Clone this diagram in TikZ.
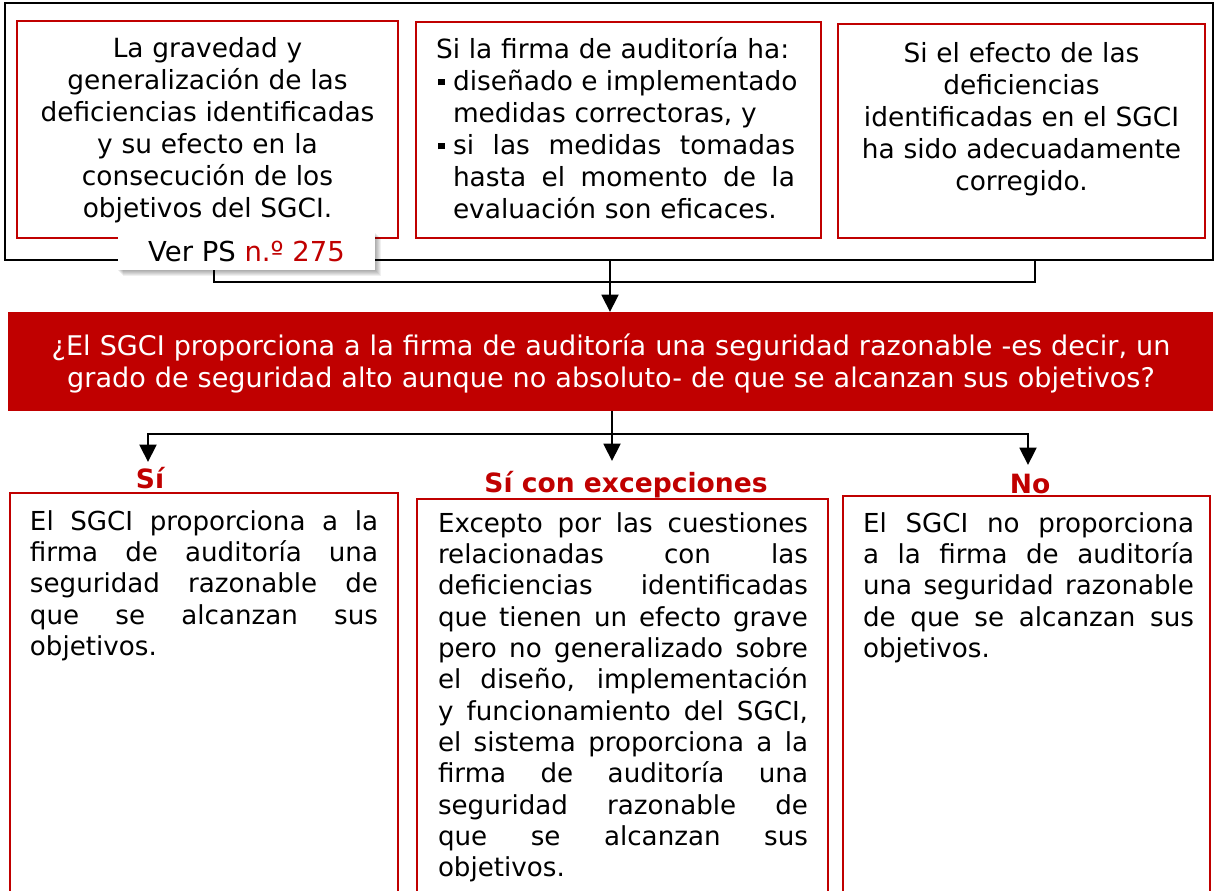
\documentclass[tikz,border=0pt]{standalone}
\usepackage{fontspec}
\setmainfont{DejaVu Sans}
\usetikzlibrary{arrows.meta}
\definecolor{kred}{HTML}{C00000}
\newlength{\bind}
\setlength{\bind}{12.75pt}
\newcommand{\jl}[1]{{\spaceskip=\fontdimen2\font plus 1fil\xspaceskip=\spaceskip\makebox[\linewidth][s]{#1}}}
\newcommand{\jlw}[2]{{\spaceskip=\fontdimen2\font plus 1fil\xspaceskip=\spaceskip\makebox[#1][s]{#2}}}
\newcommand{\bitem}[1]{\makebox[\bind][l]{\hspace*{1.5pt}\raisebox{3.5pt}{\rule{5pt}{5pt}}}\jlw{\dimexpr\linewidth-\bind\relax}{#1}}
\newcommand{\bcont}[1]{\hspace*{\bind}\jlw{\dimexpr\linewidth-\bind\relax}{#1}}
\begin{document}
\begin{tikzpicture}[x=0.75pt,y=-0.75pt,
  every node/.style={inner sep=0pt, outer sep=0pt},
  outerbox/.style={draw=black, line width=1.9pt},
  redbox/.style={draw=kred, line width=1.6pt, fill=white},
  txt/.style={font=\fontsize{19.8pt}{24pt}\selectfont, text=black},
  btxt/.style={font=\fontsize{19.6pt}{23.5pt}\selectfont, text=black, anchor=base west, align=left},
  lbl/.style={font=\fontsize{19.9pt}{24pt}\selectfont\bfseries, text=kred, anchor=base},
  arr/.style={line width=2.2pt, -{Triangle[width=12.5pt,length=13pt]}},
  conn/.style={line width=2.2pt},
  thinline/.style={line width=0.9pt},
]
\clip (0,0) rectangle (1218,890);
\fill[white] (0,0) rectangle (1218,890);

% top frame and boxes
\node[outerbox, minimum width=1208*0.75pt, minimum height=257*0.75pt] (outer) at (609,131.5) {};
\node[redbox, minimum width=381*0.75pt, minimum height=217*0.75pt] (boxA) at (207.5,129.5) {};
\node[redbox, minimum width=405*0.75pt, minimum height=216*0.75pt] (boxB) at (618.5,130) {};
\node[redbox, minimum width=367*0.75pt, minimum height=214*0.75pt] (boxC) at (1021.5,131) {};

\node[txt, anchor=base, text width=370*0.75pt, align=center] (tA) at (207.5,57)
  {La gravedad y\\generalización de las\\deficiencias identificadas\\y su efecto en la\\consecución de los\\objetivos del SGCI.};
\node[txt, anchor=base west, text width=359*0.75pt, align=left] (tB) at (436,58)
  {Si la firma de auditoría ha:\\
   \bitem{diseñado e implementado}\\
   \hspace*{\bind}medidas correctoras, y\\
   \bitem{si las medidas tomadas}\\
   \bcont{hasta el momento de la}\\
   \hspace*{\bind}evaluación son eficaces.};
\node[txt, anchor=base, text width=355*0.75pt, align=center] (tC) at (1021.5,62)
  {Si el efecto de las\\deficiencias\\identificadas en el SGCI\\ha sido adecuadamente\\corregido.};

% reference label with shadow
\foreach \d in {1,...,6}
  \fill[black, opacity=0.06] (118+\d-1,232+\d) rectangle (375+\d,270+\d);
\node[fill=white, minimum width=257*0.75pt, minimum height=38*0.75pt, font=\fontsize{20.6pt}{24pt}\selectfont] (ref) at (246.5,251)
  {Ver PS \textcolor{kred}{n.º 275}};

% bracket under the frame
\coordinate (bl) at (214,282);
\coordinate (br) at (1035,282);
\draw[thinline] (ref.south -| bl) -- (bl) -- (br) -- (outer.south -| br);

% question bar
\node[fill=kred, minimum width=1205*0.75pt, minimum height=99*0.75pt] (bar) at (610.5,361.5) {};
\node[font=\fontsize{20.3pt}{24pt}\selectfont, text=white, anchor=base, text width=1200*0.75pt, align=center] (tq) at (611,355)
  {¿El SGCI proporciona a la firma de auditoría una seguridad razonable -es decir, un\\grado de seguridad alto aunque no absoluto- de que se alcanzan sus objetivos?};

\coordinate (top) at (610,260);
\draw[arr] (top) -- (top |- bar.north);

% branches
\coordinate (j) at (612,434);
\coordinate (tL) at (148,462);
\coordinate (tM) at (612,461);
\coordinate (tR) at (1028,465);
\draw[conn] (j |- bar.south) -- (j);
\draw[arr] (j) -- (tM);
\draw[arr] (j) -| (tL);
\draw[arr] (j) -| (tR);

\node[lbl] (lS) at (150,488) {Sí};
\node[lbl] (lM) at (626,492) {Sí con excepciones};
\node[lbl] (lN) at (1030,493) {No};

% bottom boxes
\node[redbox, minimum width=388*0.75pt, minimum height=407*0.75pt] (bL) at (204,696.5) {};
\node[redbox, minimum width=411*0.75pt, minimum height=401*0.75pt] (bM) at (622.5,699.5) {};
\node[redbox, minimum width=367*0.75pt, minimum height=404*0.75pt] (bR) at (1026.5,698) {};

\node[btxt, text width=348*0.75pt] (tL1) at (30,530)
  {\jl{El SGCI proporciona a la}\\
   \jl{firma de auditoría una}\\
   \jl{seguridad razonable de}\\
   \jl{que se alcanzan sus}\\
   objetivos.};
\node[btxt, text width=370*0.75pt] (tM1) at (438,532)
  {\jl{Excepto por las cuestiones}\\
   \jl{relacionadas con las}\\
   \jl{deficiencias identificadas}\\
   \jl{que tienen un efecto grave}\\
   \jl{pero no generalizado sobre}\\
   \jl{el diseño, implementación}\\
   \jl{y funcionamiento del SGCI,}\\
   \jl{el sistema proporciona a la}\\
   \jl{firma de auditoría una}\\
   \jl{seguridad razonable de}\\
   \jl{que se alcanzan sus}\\
   objetivos.};
\node[btxt, text width=331*0.75pt] (tR1) at (863,532)
  {\jl{El SGCI no proporciona}\\
   \jl{a la firma de auditoría}\\
   \jl{una seguridad razonable}\\
   \jl{de que se alcanzan sus}\\
   objetivos.};
\end{tikzpicture}
\end{document}
